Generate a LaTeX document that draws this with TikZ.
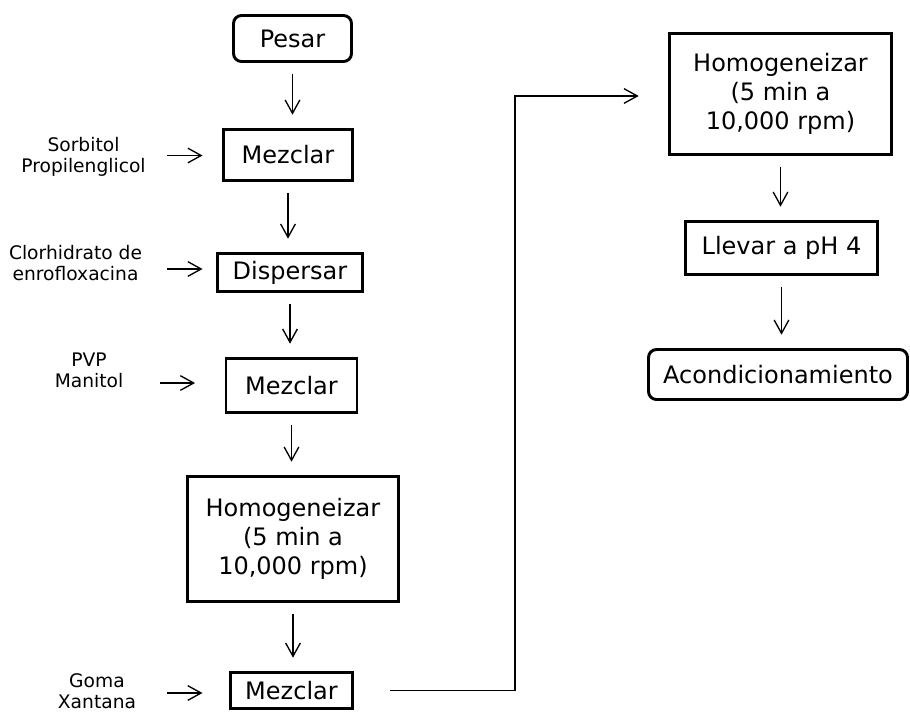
\documentclass[tikz,border=0pt]{standalone}
\usepackage{fontspec}
\setmainfont{DejaVu Sans}
\usetikzlibrary{arrows.meta}

\begin{document}
\begin{tikzpicture}[
            x = 0.75pt, y = -0.75pt, % pixel grid, y downwards
            > = {Straight Barb[length=10pt, width=11pt]}, % open arrow head
            line width = 1pt % line style
        ]

        \tikzstyle{stepbox}=[
            draw = black,
            line width = 2.2pt,
            font = \fontsize{18}{21.75}\selectfont,
            align = center,
            inner sep = 2pt
        ]
        \tikzstyle{endbox}=[stepbox, rounded corners = 6pt]
        \tikzstyle{inlabel}=[align = center, font = \fontsize{14}{16}\selectfont]
        \tikzstyle{flow}=[->, shorten < = 8pt, shorten > = 10pt]

        \useasboundingbox (0,0) rectangle (910,711);

        % left column
        \node[endbox, minimum width = 88.5pt, minimum height = 34.5pt] (pesar) at (292.5,38.5) {Pesar};
        \node[stepbox, minimum width = 96.75pt, minimum height = 38.25pt] (mezA) at (288,155) {Mezclar};
        \node[stepbox, minimum width = 108.75pt, minimum height = 28.5pt] (disp) at (290,272.5) {Dispersar};
        \node[stepbox, minimum width = 98.25pt, minimum height = 40.5pt] (mezB) at (291.5,385.5) {Mezclar};
        \node[stepbox, minimum width = 158.25pt, minimum height = 93.75pt] (homA) at (293,539) {Homogeneizar\\(5 min a\\10,000 rpm)};
        \node[stepbox, minimum width = 91.5pt, minimum height = 27pt] (mezC) at (291.5,690.5) {Mezclar};

        % right column
        \node[stepbox, minimum width = 166.5pt, minimum height = 90.75pt] (homB) at (780.5,94) {Homogeneizar\\(5 min a\\10,000 rpm)};
        \node[stepbox, minimum width = 144pt, minimum height = 39.75pt] (ph) at (781.5,248) {Llevar a pH 4};
        \node[endbox, minimum width = 194.25pt, minimum height = 37.5pt] (acond) at (778,374.5) {Acondicionamiento};

        % ingredients
        \node[inlabel] (sorb) at (83.5,157) {Sorbitol\\Propilenglicol};
        \node[inlabel] (clor) at (75.5,263) {Clorhidrato de\\enrofloxacina};
        \node[inlabel] (pvp) at (89,370) {PVP\\Manitol};
        \node[inlabel] (goma) at (97,691) {Goma\\Xantana};

        \coordinate (inA) at (167,155.5);
        \coordinate (inB) at (167,269);
        \coordinate (inC) at (160,383);
        \coordinate (inD) at (167,693);
        \coordinate (turn) at (515,96);

        \draw[->, shorten > = 14.6pt] (inA) -- (inA -| mezA.west);
        \draw[->, shorten > = 10.1pt] (inB) -- (inB -| disp.west);
        \draw[->, shorten > = 22.1pt] (inC) -- (inC -| mezB.west);
        \draw[->, shorten > = 19.9pt] (inD) -- (inD -| mezC.west);

        \draw[flow] (pesar.south) -- (pesar.south |- mezA.north);
        \draw[flow] (mezA.south) -- (mezA.south |- disp.north);
        \draw[flow] (disp.south) -- (disp.south |- mezB.north);
        \draw[flow] (mezB.south) -- (mezB.south |- homA.north);
        \draw[flow] (homA.south) -- (homA.south |- mezC.north);
        \draw[->, shorten < = 27pt, shorten > = 22pt] (mezC.east) -| (turn) -- (turn -| homB.west);
        \draw[flow] (homB.south) -- (homB.south |- ph.north);
        \draw[flow] (ph.south) -- (ph.south |- acond.north);

  \end{tikzpicture}
\end{document}
